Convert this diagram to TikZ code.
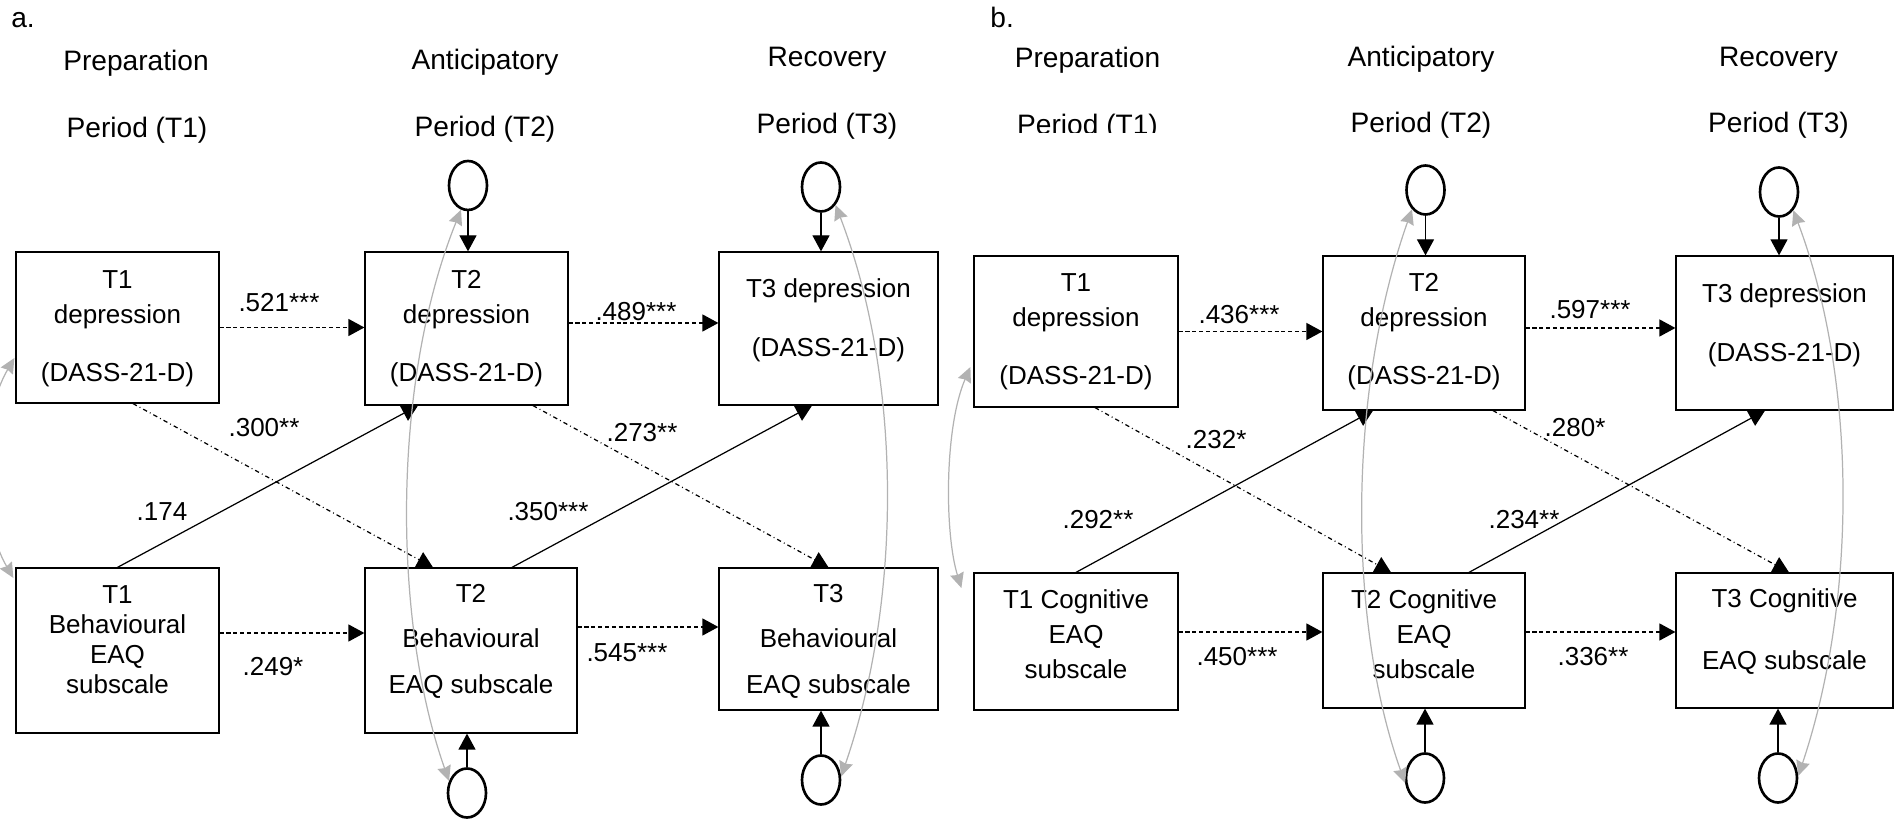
\documentclass[tikz,border=0pt]{standalone}
\usepackage{fontspec}
\setmainfont{Liberation Sans}
\usetikzlibrary{shapes.geometric,arrows.meta}

\tikzset{
  box/.style={draw, line width=0.7pt, inner sep=0pt},
  boxtext/.style={align=center, inner sep=0pt, font=\fontsize{14.8}{17}\selectfont},
  head/.style={anchor=base, inner sep=0pt, font=\fontsize{16}{19}\selectfont},
  coef/.style={inner sep=0pt, font=\fontsize{14.8}{17}\selectfont},
  resid/.style={draw, ellipse, line width=1.5pt, minimum width=0.76cm, minimum height=0.98cm, inner sep=0pt},
  stab/.style={line width=0.8pt, dash pattern=on 2.3pt off 1.6pt, -{Triangle[length=0.32cm,width=0.34cm]}},
  cross/.style={line width=0.7pt, dash pattern=on 2.5pt off 1.8pt on 0.5pt off 1.8pt, -{Triangle[length=0.32cm,width=0.34cm]}},
  effect/.style={line width=0.7pt, -{Triangle[length=0.32cm,width=0.34cm]}},
  corr/.style={gray!60, line width=0.7pt, {Stealth[length=0.3cm,width=0.28cm,inset=0.03cm]}-{Stealth[length=0.3cm,width=0.28cm,inset=0.03cm]}}
}

\begin{document}
\begin{tikzpicture}

\useasboundingbox (0,0) rectangle (37.94,16.4);
\clip (0,0) rectangle (37.94,16.4);

% panel a: behavioural subscale
\node[head, anchor=base west] (alabel) at (0.22,15.84) {a.};
\node[head] (aprep) at (2.72,14.98) {Preparation};
\node[head] (aper1) at (2.74,13.64) {Period (T1)};
\node[head] (aanti) at (9.70,15.00) {Anticipatory};
\node[head] (aper2) at (9.70,13.66) {Period (T2)};
\node[head] (areco) at (16.54,15.06) {Recovery};
\node[head] (aper3) at (16.54,13.72) {Period (T3)};

\node[box, minimum width=4.06cm, minimum height=3.02cm] (a1d) at (2.35,9.85) {};
\node[box, minimum width=4.06cm, minimum height=3.06cm] (a2d) at (9.33,9.83) {};
\node[box, minimum width=4.38cm, minimum height=3.06cm] (a3d) at (16.57,9.83) {};
\node[box, minimum width=4.06cm, minimum height=3.30cm] (a1b) at (2.35,3.39) {};
\node[box, minimum width=4.24cm, minimum height=3.30cm] (a2b) at (9.42,3.39) {};
\node[box, minimum width=4.38cm, minimum height=2.84cm] (a3b) at (16.57,3.62) {};

\node[boxtext] (a1dtxt) at (2.35,9.82) {T1\\[2.9pt]depression\\[16pt](DASS-21-D)};
\node[boxtext] (a2dtxt) at (9.33,9.82) {T2\\[2.9pt]depression\\[16pt](DASS-21-D)};
\node[boxtext] (a3dtxt) at (16.57,10.0) {T3 depression\\[16.6pt](DASS-21-D)};
\node[boxtext] (a1btxt) at (2.35,3.61) {T1\\Behavioural\\EAQ\\subscale};
\node[boxtext] (a2btxt) at (9.42,3.58) {T2\\[8.9pt]Behavioural\\[8.9pt]EAQ subscale};
\node[boxtext] (a3btxt) at (16.57,3.58) {T3\\[8.9pt]Behavioural\\[8.9pt]EAQ subscale};

\node[resid] (ae2top) at (9.36,12.69) {};
\node[resid] (ae3top) at (16.42,12.66) {};
\node[resid] (ae2bot) at (9.34,0.54) {};
\node[resid] (ae3bot) at (16.42,0.80) {};

\draw[stab] (a1d.east) -- (a1d.east -| a2d.west);
\draw[stab] ([yshift=0.11cm]a2d.east) -- ([yshift=0.11cm]a2d.east -| a3d.west);
\draw[stab] ([yshift=0.35cm]a1b.east) -- ([yshift=0.35cm]a1b.east -| a2b.west);
\draw[stab] ([yshift=0.47cm]a2b.east) -- ([yshift=0.47cm]a2b.east -| a3b.west);

\draw[cross] ([xshift=0.31cm]a1d.south) -- ([xshift=-0.76cm]a2b.north);
\draw[cross] ([xshift=1.33cm]a2d.south) -- (a3b.north);
\draw[effect] (a1b.north) -- ([xshift=-0.97cm]a2d.south);
\draw[effect] ([xshift=0.82cm]a2b.north) -- ([xshift=-0.33cm]a3d.south);

\draw[effect] (ae2top.south) -- (ae2top.south |- a2d.north);
\draw[effect] (ae3top.south) -- (ae3top.south |- a3d.north);
\draw[effect] (ae2bot.north) -- (ae2bot.north |- a2b.south);
\draw[effect] (ae3bot.north) -- (ae3bot.north |- a3b.south);

\draw[corr] (ae2top.254) .. controls +(-1.38,-3.42) and +(-1.14,3.22) .. (ae2bot.146);
\draw[corr] (ae3top.309) .. controls +(1.34,-3.5) and +(1.22,3.54) .. (ae3bot.10);
\draw[corr] ([shift={(-0.02,-0.61)}]a1d.west) .. controls +(-0.7,-1.2) and +(-0.7,1.2) .. ([shift={(-0.04,1.45)}]a1b.west);

\node[coef] (ac1) at (5.58,10.34) {.521***};
\node[coef] (ac2) at (12.72,10.16) {.489***};
\node[coef] (ac3) at (5.46,3.06) {.249*};
\node[coef] (ac4) at (12.54,3.34) {.545***};
\node[coef] (ac5) at (5.28,7.84) {.300**};
\node[coef] (ac6) at (12.84,7.74) {.273**};
\node[coef] (ac7) at (3.24,6.16) {.174};
\node[coef] (ac8) at (10.96,6.16) {.350***};

% panel b: cognitive subscale
\begin{scope}[xshift=19.15cm]

\node[head, anchor=base west] (blabel) at (0.65,15.84) {b.};
\node[head] (bprep) at (2.60,15.04) {Preparation};
\begin{scope}
\clip (0.5,13.74) rectangle (4.7,14.6);
\node[head] (bper1) at (2.60,13.70) {Period (T1)};
\end{scope}
\node[head] (banti) at (9.27,15.06) {Anticipatory};
\node[head] (bper2) at (9.27,13.74) {Period (T2)};
\node[head] (breco) at (16.42,15.06) {Recovery};
\node[head] (bper3) at (16.42,13.74) {Period (T3)};

\node[box, minimum width=4.08cm, minimum height=3.02cm] (b1d) at (2.37,9.77) {};
\node[box, minimum width=4.04cm, minimum height=3.08cm] (b2d) at (9.33,9.74) {};
\node[box, minimum width=4.34cm, minimum height=3.08cm] (b3d) at (16.54,9.74) {};
\node[box, minimum width=4.08cm, minimum height=2.74cm] (b1c) at (2.37,3.57) {};
\node[box, minimum width=4.04cm, minimum height=2.70cm] (b2c) at (9.33,3.59) {};
\node[box, minimum width=4.34cm, minimum height=2.70cm] (b3c) at (16.54,3.59) {};

\node[boxtext] (b1dtxt) at (2.37,9.76) {T1\\[2.9pt]depression\\[16pt](DASS-21-D)};
\node[boxtext] (b2dtxt) at (9.33,9.76) {T2\\[2.9pt]depression\\[16pt](DASS-21-D)};
\node[boxtext] (b3dtxt) at (16.54,9.90) {T3 depression\\[16.6pt](DASS-21-D)};
\node[boxtext] (b1ctxt) at (2.37,3.72) {T1 Cognitive\\[2.9pt]EAQ\\[2.9pt]subscale};
\node[boxtext] (b2ctxt) at (9.33,3.72) {T2 Cognitive\\[2.9pt]EAQ\\[2.9pt]subscale};
\node[boxtext] (b3ctxt) at (16.54,3.76) {T3 Cognitive\\[18.3pt]EAQ subscale};

\node[resid] (be2top) at (9.36,12.60) {};
\node[resid] (be3top) at (16.43,12.56) {};
\node[resid] (be2bot) at (9.35,0.84) {};
\node[resid] (be3bot) at (16.41,0.84) {};

\draw[stab] (b1d.east) -- (b1d.east -| b2d.west);
\draw[stab] ([yshift=0.1cm]b2d.east) -- ([yshift=0.1cm]b2d.east -| b3d.west);
\draw[stab] ([yshift=0.19cm]b1c.east) -- ([yshift=0.19cm]b1c.east -| b2c.west);
\draw[stab] ([yshift=0.17cm]b2c.east) -- ([yshift=0.17cm]b2c.east -| b3c.west);

\draw[cross] ([xshift=0.38cm]b1d.south) -- ([xshift=-0.66cm]b2c.north);
\draw[cross] ([xshift=1.38cm]b2d.south) -- ([xshift=0.09cm]b3c.north);
\draw[effect] (b1c.north) -- ([xshift=-1.02cm]b2d.south);
\draw[effect] ([xshift=0.90cm]b2c.north) -- ([xshift=-0.39cm]b3d.south);

\draw[effect] (be2top.south) -- (be2top.south |- b2d.north);
\draw[effect] (be3top.south) -- (be3top.south |- b3d.north);
\draw[effect] (be2bot.north) -- (be2bot.north |- b2c.south);
\draw[effect] (be3bot.north) -- (be3bot.north |- b3c.south);

\draw[corr] (be2top.235) .. controls +(-1.28,-3.62) and +(-1.16,3.26) .. (be2bot.194);
\draw[corr] (be3top.308) .. controls +(1.28,-3.4) and +(1.18,3.52) .. (be3bot.6);
\draw[corr] ([shift={(-0.06,-0.71)}]b1d.west) .. controls +(-0.52,-1.2) and +(-0.34,1.1) .. ([shift={(-0.24,1.07)}]b1c.west);

\node[coef] (bc1) at (5.63,10.10) {.436***};
\node[coef] (bc2) at (12.65,10.20) {.597***};
\node[coef] (bc3) at (5.59,3.26) {.450***};
\node[coef] (bc4) at (12.71,3.26) {.336**};
\node[coef] (bc5) at (5.17,7.60) {.232*};
\node[coef] (bc6) at (12.35,7.84) {.280*};
\node[coef] (bc7) at (2.81,6.00) {.292**};
\node[coef] (bc8) at (11.33,6.00) {.234**};

\end{scope}

\end{tikzpicture}
\end{document}
